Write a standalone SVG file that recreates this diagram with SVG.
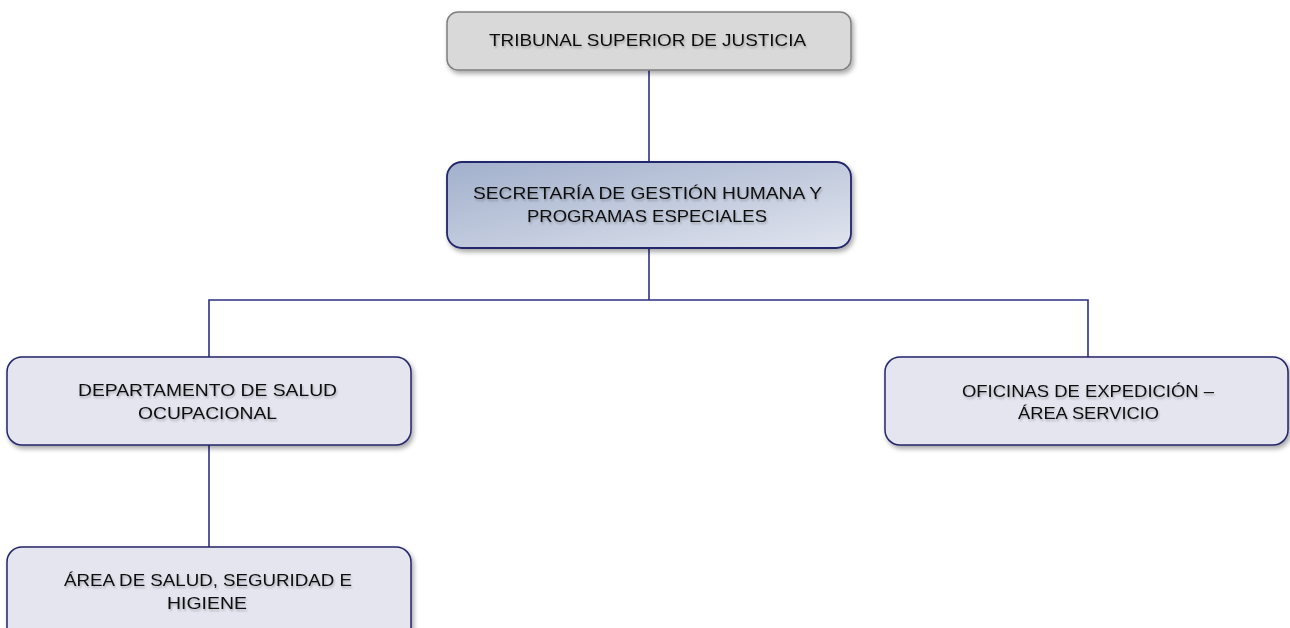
<svg xmlns="http://www.w3.org/2000/svg" width="1290" height="628" viewBox="0 0 1290 628">
  <defs>
    <linearGradient id="gSec" x1="0" y1="0" x2="1" y2="1">
      <stop offset="0" stop-color="#a2b0cc"/>
      <stop offset="1" stop-color="#e0e4ee"/>
    </linearGradient>
    <filter id="sh" x="-5%" y="-10%" width="115%" height="135%">
      <feGaussianBlur in="SourceAlpha" stdDeviation="2.5"/>
      <feOffset dx="2" dy="3" result="b"/>
      <feComponentTransfer><feFuncA type="linear" slope="0.35"/></feComponentTransfer>
      <feMerge><feMergeNode/><feMergeNode in="SourceGraphic"/></feMerge>
    </filter>
    <filter id="tsh" x="-5%" y="-30%" width="110%" height="170%">
      <feGaussianBlur in="SourceAlpha" stdDeviation="1.2"/>
      <feOffset dx="1" dy="1.5" result="b"/>
      <feComponentTransfer><feFuncA type="linear" slope="0.25"/></feComponentTransfer>
      <feMerge><feMergeNode/><feMergeNode in="SourceGraphic"/></feMerge>
    </filter>
  </defs>
  <style>
    .box { fill: #e4e5ef; stroke: #24256a; stroke-width: 1.5; }
    .top { fill: #d9d9d9; stroke: #7f7f7f; stroke-width: 1.5; }
    .sec { fill: url(#gSec); stroke: #24256a; stroke-width: 1.8; }
    .lbl { font-family: "Liberation Sans", Arial, sans-serif; font-size: 17px; fill: #111111; text-anchor: middle; }
    .con { fill: none; stroke: #2e3080; stroke-width: 1.6; }
  </style>
  <rect width="1290" height="628" fill="#ffffff"/>

  <g id="connectors">
    <path class="con" d="M649 70 V162"/>
    <path class="con" d="M649 248 V300"/>
    <path class="con" d="M209 357 V300 H1088 V357"/>
    <path class="con" d="M209 445 V547"/>
  </g>

  <g id="tribunal">
    <rect class="top" x="447" y="12" width="404" height="58" rx="11" filter="url(#sh)"/>
    <text class="lbl" x="647.5" y="46" textLength="317" lengthAdjust="spacingAndGlyphs" filter="url(#tsh)">TRIBUNAL SUPERIOR DE JUSTICIA</text>
  </g>

  <g id="secretaria">
    <rect class="sec" x="447" y="162" width="404" height="86" rx="15" filter="url(#sh)"/>
    <text class="lbl" x="647.5" y="199" textLength="349" lengthAdjust="spacingAndGlyphs" filter="url(#tsh)">SECRETARÍA DE GESTIÓN HUMANA Y</text>
    <text class="lbl" x="647" y="222" textLength="240" lengthAdjust="spacingAndGlyphs" filter="url(#tsh)">PROGRAMAS ESPECIALES</text>
  </g>

  <g id="departamento">
    <rect class="box" x="7" y="357" width="404" height="88" rx="15" filter="url(#sh)"/>
    <text class="lbl" x="207.5" y="396" textLength="259" lengthAdjust="spacingAndGlyphs" filter="url(#tsh)">DEPARTAMENTO DE SALUD</text>
    <text class="lbl" x="207.5" y="419" textLength="139" lengthAdjust="spacingAndGlyphs" filter="url(#tsh)">OCUPACIONAL</text>
  </g>

  <g id="oficinas">
    <rect class="box" x="885" y="357" width="403" height="88" rx="15" filter="url(#sh)"/>
    <text class="lbl" x="1088" y="397" textLength="252" lengthAdjust="spacingAndGlyphs" filter="url(#tsh)">OFICINAS DE EXPEDICIÓN –</text>
    <text class="lbl" x="1088.5" y="419" textLength="141" lengthAdjust="spacingAndGlyphs" filter="url(#tsh)">ÁREA SERVICIO</text>
  </g>

  <g id="area-salud">
    <rect class="box" x="7" y="547" width="404" height="100" rx="15" filter="url(#sh)"/>
    <text class="lbl" x="208" y="586" textLength="288" lengthAdjust="spacingAndGlyphs" filter="url(#tsh)">ÁREA DE SALUD, SEGURIDAD E</text>
    <text class="lbl" x="207" y="609" textLength="80" lengthAdjust="spacingAndGlyphs" filter="url(#tsh)">HIGIENE</text>
  </g>
</svg>
